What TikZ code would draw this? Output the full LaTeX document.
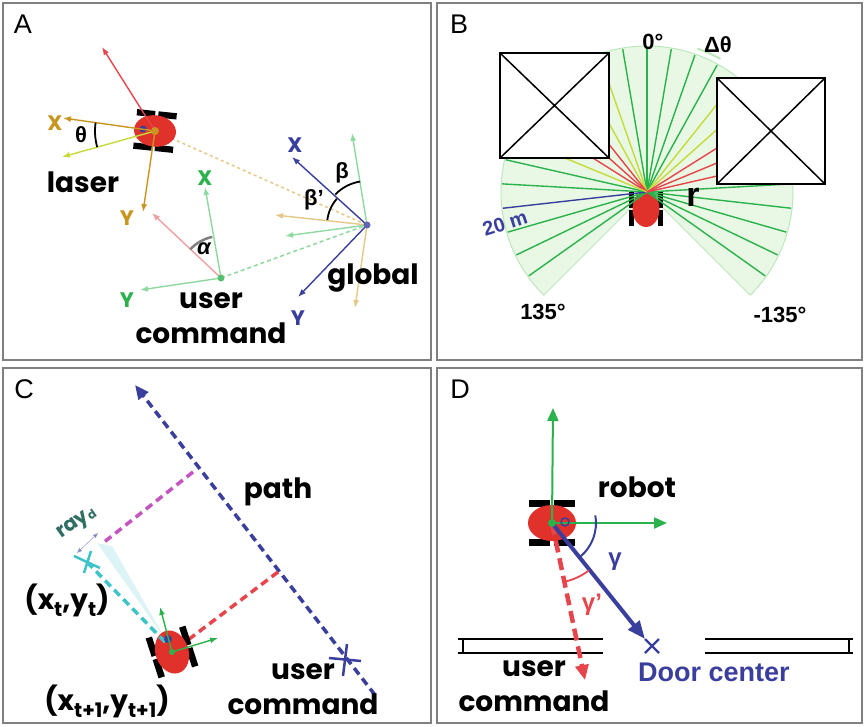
\documentclass[tikz,border=0pt]{standalone}
\usepackage{fontspec}
\setmainfont{Liberation Sans}
\newfontfamily\geo{Poppins}
\usetikzlibrary{arrows.meta}

\definecolor{frameg}{HTML}{808080}
\definecolor{robred}{HTML}{E0322B}
\definecolor{gold}{HTML}{C8961E}
\definecolor{ygreen}{HTML}{C6DA3A}
\definecolor{tan}{HTML}{E3C887}
\definecolor{lgreen}{HTML}{8FD9A0}
\definecolor{dgreen}{HTML}{2BB24C}
\definecolor{pinkish}{HTML}{F0A0A3}
\definecolor{navy}{HTML}{3A3F9E}
\definecolor{magent}{HTML}{C455C0}
\definecolor{cyanish}{HTML}{3EC3C8}
\definecolor{dred}{HTML}{E6454B}
\definecolor{teal}{HTML}{2F6F63}
\definecolor{fanfill}{HTML}{E8F8E4}
\definecolor{fanedge}{HTML}{BDE8BD}

\tikzset{
  panel/.style={draw=frameg,line width=1.2pt},
  plabel/.style={font=\fontsize{27}{30}\selectfont},
  word/.style={font=\geo\bfseries\fontsize{28}{35}\selectfont,align=center,inner sep=1pt},
  axl/.style={font=\geo\bfseries\fontsize{21}{24}\selectfont,inner sep=1pt},
  greek/.style={font=\bfseries\fontsize{22}{24}\selectfont,inner sep=1pt},
  deg/.style={font=\bfseries\fontsize{22}{24}\selectfont,inner sep=1pt},
  ax/.style={-{Latex[length=8pt,width=6pt]},line width=1.4pt},
  bigax/.style={-{Triangle[length=13pt,width=11pt]},line width=2pt,dgreen},
  thickdash/.style={line width=3.5pt,dash pattern=on 8pt off 5pt},
  robot/.pic={
    \foreach \s in {-1,1}{
      \fill[black] (\s*13,-19) rectangle (\s*19,-1.5);
      \fill[black] (\s*13,1.5) rectangle (\s*19,19);
    }
    \fill[robred] (0,0) ellipse[x radius=15, y radius=20];
  },
}

\begin{document}
\begin{tikzpicture}[x=1pt,y=-1pt]
  \useasboundingbox (0,0) rectangle (865,726);
  \fill[white] (0,0) rectangle (865,726);

  % four panels
  \draw[panel] (3,3) rectangle (431,360);
  \draw[panel] (437,3) rectangle (862,360);
  \draw[panel] (3,368) rectangle (431,723);
  \draw[panel] (437,368) rectangle (862,723);
  \node[plabel] (labA) at (23,24) {A};
  \node[plabel] (labB) at (459,24) {B};
  \node[plabel] (labC) at (24,389) {C};
  \node[plabel] (labD) at (460,389) {D};

  %% A: laser, user command and global frames
  \coordinate (laser) at (155,131);
  \coordinate (user) at (221,278);
  \coordinate (glob) at (367,225);

  \draw[tan,line width=1.5pt,dash pattern=on 3pt off 3pt] (laser) -- (glob);
  \draw[lgreen,line width=1.5pt,dash pattern=on 4pt off 3pt] (user) -- (glob);

  \pic[rotate=84,scale=1.05] at (laser) {robot};
  \fill[navy] (143,129) circle (3.5);

  \draw[ax,dred] (laser) -- (102,47);
  \draw[ax,gold] (laser) -- (63,118);
  \draw[ax,ygreen] (laser) -- (62,157);
  \draw[ax,gold] (laser) -- (143,212);
  \fill[gold] (laser) circle (4);
  \draw[line width=1.8pt] (laser) ++(-172:60) arc[start angle=-172,end angle=-195.6,radius=60];
  \node[axl,gold] (lX) at (55,123) {X};
  \node[axl,gold] (lY) at (127,218) {Y};
  \node[greek] (theta) at (81,135) {θ};
  \node[word] (laserw) at (83,182) {laser};

  \draw[ax,lgreen] (user) -- (205,187);
  \draw[ax,lgreen] (user) -- (140,290);
  \draw[ax,pinkish] (user) -- (152,213);
  \fill[dgreen!80] (user) circle (3.5);
  \draw[frameg,line width=2.5pt] (user) ++(-137:42) arc[start angle=-137,end angle=-102,radius=42];
  \node[axl,dgreen] (uX) at (205,178) {X};
  \node[axl,dgreen] (uY) at (127,300) {Y};
  \node[greek,font=\bfseries\itshape\fontsize{22}{24}\selectfont] (alpha) at (204,249) {α};
  \node[word] (userw) at (211,318) {user\\command};

  \draw[ax,lgreen] (glob) -- (352,133);
  \draw[ax,tan] (glob) -- (355,308);
  \draw[ax,tan] (glob) -- (275,215);
  \draw[ax,lgreen] (glob) -- (285,236);
  \draw[ax,navy] (glob) -- (292,157);
  \draw[ax,navy] (glob) -- (298,297);
  \fill[navy!80] (glob) circle (3.5);
  \draw[line width=1.8pt] (glob) ++(-136:44) arc[start angle=-136,end angle=-99,radius=44];
  \draw[line width=1.8pt] (glob) ++(-173:40) arc[start angle=-173,end angle=-139,radius=40];
  \node[axl,navy] (gX) at (295,145) {X};
  \node[axl,navy] (gY) at (298,318) {Y};
  \node[greek] (beta) at (342,173) {β};
  \node[greek] (betap) at (314,200) {β’};
  \node[word] (globw) at (373,278) {global};

  %% B: laser scan with two obstacles
  \coordinate (scan) at (647,192);
  \fill[fanfill,draw=fanedge,line width=1pt] (scan) -- ++(45:146)
    arc[start angle=45,end angle=-225,radius=146] -- cycle;
  \pic[scale=0.9] at (646,209) {robot};
  % free rays
  \foreach \k in {-13,...,-9,-3,-2,-1,0,1,8,9,11,12,13}
    \draw[dgreen,line width=1.4pt] (scan) -- ++({-90-9.643*\k}:145);
  \draw[navy,line width=1.4pt] (scan) -- ++({-90-9.643*10}:145);
  % rays that hit an obstacle
  \foreach \k/\len/\col in {2/115/ygreen,3/78.6/ygreen,4/60.9/dred,5/51/dred,
      6/64/dred,7/88.8/ygreen,-4/112.3/ygreen,-5/94/ygreen,-6/82.6/dred,
      -7/75.8/dred,-8/71.8/dred}
    \draw[\col,line width=1.4pt] (scan) -- ++({-90-9.643*\k}:\len);
  \draw[fanedge,line width=2pt] (scan) ++(-70.7:152) arc[start angle=-70.7,end angle=-61.1,radius=152];
  \draw[fill=white,line width=1.8pt] (500,53) rectangle (609,158);
  \draw[line width=1.5pt] (500,53) -- (609,158) (500,158) -- (609,53);
  \draw[fill=white,line width=1.8pt] (717,78) rectangle (825,184);
  \draw[line width=1.5pt] (717,78) -- (825,184) (717,184) -- (825,78);
  \node[deg] (zero) at (653,42) {0°};
  \node[deg] (dth) at (718,45) {Δθ};
  \node[deg] (left135) at (543,312) {135°};
  \node[deg] (right135) at (780,315) {-135°};
  \node[deg,navy,rotate=18,font=\bfseries\fontsize{20}{22}\selectfont] (range) at (505,223) {20 m};
  \node[font=\bfseries\fontsize{34}{36}\selectfont,inner sep=1pt] (rr) at (693,197) {r};

  %% C: path, rays and the next pose
  \coordinate (ptop) at (135,385);
  \coordinate (pbot) at (375,695);
  \coordinate (rC) at (172,652);
  \coordinate (xt) at (87,562);
  \fill[cyanish!18] (166,640) -- (97,543) -- (112,546) -- cycle;
  \draw[navy,thickdash,-{Triangle[length=14pt,width=12pt]}] (pbot) -- (ptop);
  \draw[magent,thickdash] (193,472) -- (103,543);
  \draw[dred,thickdash] (278,572) -- (rC);
  \pic[rotate=18,scale=1.1] at (rC) {robot};
  \draw[cyanish,thickdash] (xt) -- (168,645);
  \draw[cyanish,line width=2.5pt] (xt) ++(-13,-6) -- ++(26,12) (xt) ++(4,-11) -- ++(-7,22);
  \draw[navy,line width=2.5pt] (345,660) ++(-16,-2) -- ++(32,3) (345,660) ++(2,-16) -- ++(-4,32);
  \draw[{Latex[length=5pt,width=4pt]}-{Latex[length=5pt,width=4pt]},navy!60,line width=0.4pt]
    (77,553) -- (98,533);
  \fill[navy] (168,639) circle (4);
  \draw[ax,dgreen] (rC) -- (160,607);
  \draw[ax,dgreen] (rC) -- (218,638);
  \fill[dgreen] (rC) circle (3);
  \node[word,teal,rotate=35,font=\geo\bfseries\fontsize{20}{22}\selectfont] (ray) at (77,524) {ray\raisebox{-2pt}{\fontsize{12}{12}\selectfont d}};
  \node[word] (pxt) at (67,600) {(x\raisebox{-7pt}{\fontsize{20}{20}\selectfont t},y\raisebox{-7pt}{\fontsize{20}{20}\selectfont t})};
  \node[word] (pxn) at (107,701) {(x\raisebox{-7pt}{\fontsize{20}{20}\selectfont t+1},y\raisebox{-7pt}{\fontsize{20}{20}\selectfont t+1})};
  \node[word] (pathw) at (278,492) {path};
  \node[word] (userC) at (303,689) {user\\command};

  %% D: door passing
  \coordinate (rD) at (552,523);
  \coordinate (door) at (645,639);
  \coordinate (cmd) at (585,680);
  \draw[line width=1.8pt] (458,639) -- (603,639) (458,653) -- (603,653) (463,639) -- (463,653);
  \draw[line width=1.8pt] (705,639) -- (853,639) (705,653) -- (853,653) (849,639) -- (849,653);
  \pic[rotate=90,scale=1.2] at (rD) {robot};
  \draw[dred,line width=4.5pt,dash pattern=on 12pt off 6pt,-{Triangle[length=15pt,width=13pt]}] (rD) -- (cmd);
  \draw[navy,line width=4pt,-{Triangle[length=18pt,width=14pt]}] (rD) -- (door);
  \draw[navy,line width=2.2pt] (652,646) ++(-7,-7) -- ++(14,14) (652,646) ++(7,-7) -- ++(-14,14);
  \draw[bigax] (rD) -- (553,408);
  \draw[bigax] (rD) -- (667,523);
  \draw[navy,line width=1.5pt] (565,522) circle (4);
  \fill[dgreen] (rD) circle (4);
  \draw[navy,line width=2pt] (rD) ++(-10:44) arc[start angle=-10,end angle=50,radius=44];
  \draw[dred,line width=1.8pt] (rD) ++(78:60) arc[start angle=78,end angle=52,radius=60];
  \node[greek,navy,font=\bfseries\fontsize{24}{26}\selectfont] (gam) at (615,562) {γ};
  \node[greek,dred,font=\bfseries\fontsize{24}{26}\selectfont] (gamp) at (592,605) {γ’};
  \node[word] (robw) at (637,487) {robot};
  \node[word] (userD) at (534,686) {user\\command};
  \node[navy,font=\bfseries\fontsize{27}{28}\selectfont] (doorw) at (714,672) {Door center};
\end{tikzpicture}
\end{document}
